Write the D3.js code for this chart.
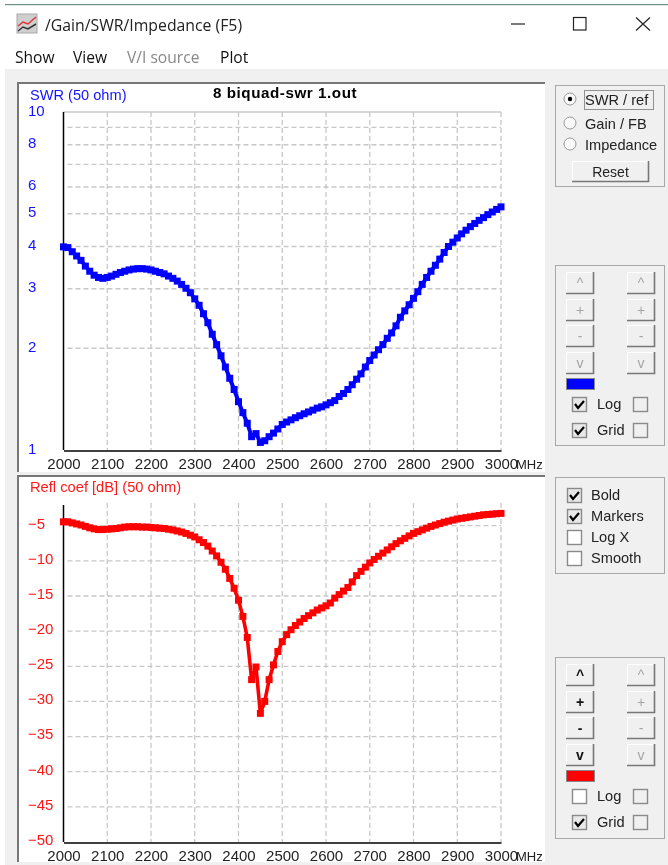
<!DOCTYPE html>
<html>
<head>
<meta charset="utf-8">
<script src="https://cdn.jsdelivr.net/npm/d3@7"></script>
<style>
html,body{margin:0;padding:0;background:#fff;overflow:hidden}
svg{display:block;filter:blur(0.35px)}
text{font-family:"Liberation Sans",Arial,sans-serif}
.ui{font-family:"Open Sans","Noto Sans",sans-serif}
.ctl{font-family:"Liberation Sans",Arial,sans-serif}
</style>
</head>
<body>
<script>
// ---------- data ----------
const swrTitle = "SWR (50 ohm)";
const reflTitle = "Refl coef [dB] (50 ohm)";
const plotTitle = "8 biquad-swr 1.out";
const freqStart = 2000, freqStep = 10;
const xTicks = [2000,2100,2200,2300,2400,2500,2600,2700,2800,2900,3000];
const swrGrid = [2,3,4,5,6,7,8,9];
const swrLabels = [1,2,3,4,5,6,8,10];
const reflTicks = [-5,-10,-15,-20,-25,-30,-35,-40,-45,-50];

const swrValues = [
3.99,3.97,3.86,3.75,3.64,3.50,3.38,3.29,3.24,3.22,
3.24,3.27,3.31,3.35,3.38,3.41,3.43,3.44,3.44,3.43,
3.41,3.38,3.35,3.32,3.27,3.22,3.16,3.09,3.01,2.92,
2.80,2.68,2.53,2.38,2.20,2.05,1.90,1.76,1.63,1.51,
1.39,1.29,1.20,1.095,1.118,1.053,1.065,1.095,1.122,1.154,
1.19,1.21,1.228,1.246,1.263,1.28,1.296,1.312,1.33,1.342,
1.36,1.38,1.40,1.44,1.47,1.51,1.56,1.62,1.68,1.76,
1.84,1.91,1.98,2.05,2.14,2.22,2.33,2.47,2.58,2.69,
2.81,2.94,3.09,3.24,3.38,3.52,3.67,3.84,4.00,4.12,
4.24,4.36,4.47,4.58,4.68,4.78,4.87,4.97,5.06,5.15,5.24];

const reflValues = [
-4.45,-4.45,-4.6,-4.75,-4.9,-5.1,-5.3,-5.45,-5.55,-5.55,
-5.5,-5.45,-5.4,-5.3,-5.2,-5.15,-5.15,-5.15,-5.2,-5.2,
-5.25,-5.3,-5.35,-5.4,-5.5,-5.6,-5.75,-5.9,-6.1,-6.35,
-6.6,-7.0,-7.4,-7.9,-8.6,-9.3,-10.2,-11.2,-12.5,-13.9,
-15.6,-17.9,-20.9,-26.9,-25.1,-31.7,-30,-26.9,-24.8,-22.9,
-21.5,-20.5,-19.8,-19.2,-18.7,-18.2,-17.8,-17.4,-17.0,-16.7,
-16.4,-16,-15.3,-14.8,-14.3,-13.8,-13,-12.1,-11.5,-10.9,
-10.3,-9.8,-9.35,-8.9,-8.45,-8,-7.55,-7.15,-6.8,-6.45,
-6.1,-5.85,-5.6,-5.35,-5.1,-4.9,-4.7,-4.5,-4.35,-4.2,
-4.05,-3.95,-3.85,-3.75,-3.65,-3.55,-3.45,-3.4,-3.35,-3.3,-3.25];

// ---------- scales ----------
const W = 668, H = 865;
const svg = d3.select("body").append("svg").attr("width",W).attr("height",H);
const x = d3.scaleLinear().domain([2000,3000]).range([63.5,501]);
const ySwr = d3.scaleLog().domain([1,10]).range([450,112]);
const yRefl = d3.scaleLinear().domain([-50,-5]).range([842,525.7]);
const reflTop = 503;

// ---------- window chrome ----------
svg.append("rect").attr("width",W).attr("height",H).attr("fill","#fff");
svg.append("rect").attr("x",5).attr("y",4).attr("width",W-5).attr("height",1.2).attr("fill","#6d9085");
svg.append("rect").attr("x",5).attr("y",69).attr("width",W-5).attr("height",H-69).attr("fill","#f0f0f0");

const icon = svg.append("g");
icon.append("rect").attr("x",17).attr("y",14).attr("width",20).attr("height",19).attr("fill","#cfcfcf").attr("stroke","#aaa");
icon.append("path").attr("d","M18 26 L23 22 L28 24 L36 17").attr("fill","none").attr("stroke","#d33").attr("stroke-width",1.5);
icon.append("path").attr("d","M18 31 L23 27 L28 29 L36 24").attr("fill","none").attr("stroke","#333").attr("stroke-width",1.5);

svg.append("text").attr("class","ui").attr("x",45).attr("y",31).attr("font-size",15.8).attr("fill","#222").text("/Gain/SWR/Impedance (F5)");
svg.append("line").attr("x1",511).attr("x2",525).attr("y1",24).attr("y2",24).attr("stroke","#222").attr("stroke-width",1.2);
svg.append("rect").attr("x",573.5).attr("y",17.5).attr("width",12.5).attr("height",12.5).attr("fill","none").attr("stroke","#222").attr("stroke-width",1.2);
svg.append("path").attr("d","M636 17.5 L650 30.5 M650 17.5 L636 30.5").attr("stroke","#222").attr("stroke-width",1.2);

[["Show",15,"#111"],["View",73,"#111"],["V/I source",127,"#888"],["Plot",220,"#111"]].forEach(m=>{
  svg.append("text").attr("class","ui").attr("x",m[1]).attr("y",63).attr("font-size",15.6).attr("fill",m[2]).text(m[0]);
});

// ---------- plot panels ----------
function panel(y0,y1){
  svg.append("rect").attr("x",17).attr("y",y0).attr("width",528).attr("height",y1-y0).attr("fill","#fff");
  svg.append("path").attr("d",`M18 ${y1} V${y0+1} H545`).attr("fill","none").attr("stroke","#777").attr("stroke-width",2);
}
panel(82,472);
panel(475,862);

function gridLines(yScale, values, top, bottom){
  const g = svg.append("g").attr("fill","none").attr("stroke","#c8c8c8").attr("stroke-width",1.3).attr("stroke-dasharray","5 3");
  g.selectAll(".h").data(values).join("line")
    .attr("x1",x(2000)+4).attr("x2",x(3000)).attr("y1",d=>yScale(d)).attr("y2",d=>yScale(d));
  g.selectAll(".v").data(xTicks.slice(1)).join("line")
    .attr("x1",d=>x(d)).attr("x2",d=>x(d)).attr("y1",top).attr("y2",bottom);
}

function xAxis(bottom){
  const g = svg.append("g").attr("transform",`translate(0,${bottom})`)
    .call(d3.axisBottom(x).tickValues(xTicks).tickFormat(d3.format("d")).tickSize(0).tickPadding(0));
  g.select(".domain").attr("stroke","#000").attr("stroke-width",1.5);
  g.selectAll("text").attr("font-size",15).attr("font-family","Liberation Sans").attr("fill","#222").attr("dy",null).attr("y",18);
  svg.append("text").attr("x",516).attr("y",bottom+18).attr("font-size",13).attr("fill","#222").text("MHz");
}

function yAxisLine(top,bottom){
  svg.append("line").attr("x1",x(2000)).attr("x2",x(2000)).attr("y1",top).attr("y2",bottom).attr("stroke","#000").attr("stroke-width",1.5);
}

function yLabels(scale, values, color, dy){
  const g = svg.append("g").attr("transform",`translate(28,0)`)
    .call(d3.axisRight(scale).tickValues(values).tickFormat(d3.format("d")).tickSize(0).tickPadding(0));
  g.select(".domain").remove();
  g.selectAll("text").attr("font-size",15).attr("font-family","Liberation Sans").attr("fill",color)
    .attr("x",0).attr("dy",null).attr("dominant-baseline",null).attr("y",dy+5.3);
}

function curve(values, scale, color, lw, ms){
  const pts = values.map((v,i)=>[freqStart+i*freqStep, v]);
  const line = d3.line().x(d=>x(d[0])).y(d=>scale(d[1]));
  svg.append("path").datum(pts).attr("d",line).attr("fill","none").attr("stroke",color).attr("stroke-width",lw);
  svg.append("g").selectAll("path").data(pts).join("path")
    .attr("d",d3.symbol(d3.symbolSquare,ms*ms))
    .attr("transform",d=>`translate(${x(d[0])},${scale(d[1])})`)
    .attr("fill",color);
}

// SWR plot
svg.append("line").attr("x1",x(2000)).attr("x2",x(3000)).attr("y1",112).attr("y2",112).attr("stroke","#c8c8c8").attr("stroke-width",1.3);
gridLines(ySwr, swrGrid, 112, 450);
yAxisLine(112,450);
xAxis(450.5);
yLabels(ySwr, swrLabels, "#1414ff", -2.3);
svg.append("text").attr("x",30).attr("y",100).attr("font-size",14.6).attr("fill","#1414ff").text(swrTitle);
svg.append("text").attr("x",213).attr("y",98).attr("font-size",15.2).attr("letter-spacing",0.55).attr("font-weight","bold").attr("fill","#000").text(plotTitle);
curve(swrValues, ySwr, "#0000ff", 4, 7);

// Reflection plot
gridLines(yRefl, reflTicks.slice(0,-1), reflTop, 842);
yAxisLine(505,842);
xAxis(842.5);
yLabels(yRefl, reflTicks, "#ff1a1a", -3);
svg.append("text").attr("x",30).attr("y",492).attr("font-size",14.7).attr("fill","#ff1a1a").text(reflTitle);
curve(reflValues, yRefl, "#ff0000", 3.6, 7);

// ---------- right side controls ----------
function box(x0,y0,x1,y1){
  svg.append("rect").attr("x",x0+.5).attr("y",y0+.5).attr("width",x1-x0).attr("height",y1-y0)
    .attr("fill","#f0f0f0").attr("stroke","#a8a8a8");
}
function label(t,lx,ly,color){
  svg.append("text").attr("class","ctl").attr("x",lx).attr("y",ly).attr("font-size",14.6).attr("fill",color||"#222").text(t);
}
function button(x0,y0,w,h,t,enabled,isText){
  const g = svg.append("g");
  g.append("rect").attr("x",x0).attr("y",y0).attr("width",w).attr("height",h).attr("fill","#f0f0f0");
  g.append("path").attr("d",`M${x0+.5} ${y0+h} V${y0+.5} H${x0+w}`).attr("fill","none").attr("stroke","#fff");
  g.append("path").attr("d",`M${x0} ${y0+h-.5} H${x0+w-.5} V${y0}`).attr("fill","none").attr("stroke","#777").attr("stroke-width",1.6);
  g.append("text").attr("class","ctl").attr("x",x0+w/2).attr("y",y0+h/2+5).attr("text-anchor","middle")
    .attr("font-size",14).attr("font-weight",enabled&&!isText?"bold":null)
    .attr("fill",isText?"#222":(enabled?"#111":"#a5a5a5")).text(t);
}
function check(x0,y0,on,dim){
  const g = svg.append("g");
  g.append("rect").attr("x",x0+.5).attr("y",y0+.5).attr("width",14).attr("height",14)
    .attr("fill",dim?"#f0f0f0":(on?"#e8e8e8":"#fff")).attr("stroke","#8a8a8a").attr("stroke-width",1.4);
  if(on) g.append("path").attr("d",`M${x0+3} ${y0+7} L${x0+6} ${y0+11} L${x0+12} ${y0+4}`).attr("fill","none").attr("stroke","#000").attr("stroke-width",2.2);
}
function radio(cx,cy,on){
  const g = svg.append("g");
  g.append("circle").attr("cx",cx).attr("cy",cy).attr("r",6).attr("fill","#f8f8f8").attr("stroke","#999");
  if(on) g.append("circle").attr("cx",cx).attr("cy",cy).attr("r",2.2).attr("fill","#000");
}

box(555,85,664,186);
radio(570,99,true); radio(570,123,false); radio(570,144,false);
svg.append("rect").attr("x",584.5).attr("y",90.5).attr("width",69).attr("height",19).attr("fill","none").attr("stroke","#333").attr("stroke-dasharray","1 1");
label("SWR / ref",585,105); label("Gain / FB",585,129); label("Impedance",585,150);
button(572,161,77,21,"Reset",false,true);

function arrows(y, leftOn, color, logOn, gridOn){
  const rows = [[y,"^"],[y+27,"+"],[y+53,"-"],[y+80,"v"]];
  rows.forEach(r=>{
    button(566,r[0],28,22,r[1],leftOn);
    button(627,r[0],28,22,r[1],false);
  });
  svg.append("rect").attr("x",566.5).attr("y",y+106.5).attr("width",28).attr("height",11).attr("fill",color).attr("stroke","#888");
  check(572,y+125,logOn,false); label("Log",597,y+137); check(633,y+125,false,true);
  check(572,y+151,gridOn,false); label("Grid",597,y+163); check(633,y+151,false,true);
}
box(555,265,664,445);
arrows(272,false,"#0000ff",true,true);

box(555,477,664,573);
[["Bold",488,true],["Markers",509,true],["Log X",530,false],["Smooth",551,false]].forEach(c=>{
  check(567,c[1],c[2],false); label(c[0],591,c[1]+12);
});

box(555,657,664,838);
arrows(664,true,"#ff0000",false,true);
</script>
</body>
</html>
